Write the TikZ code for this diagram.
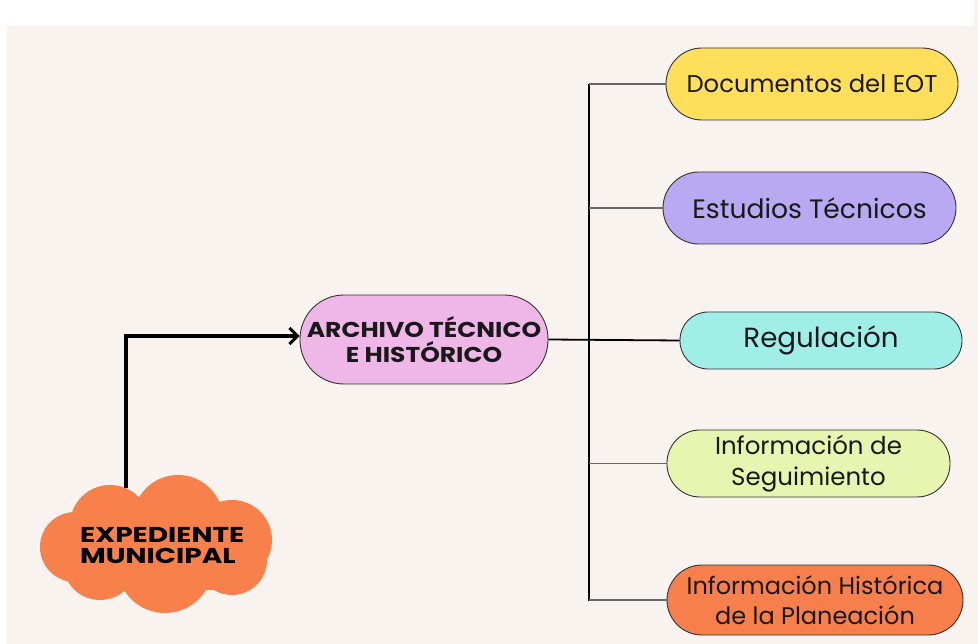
\documentclass[tikz,border=0pt]{standalone}
\usepackage{fontspec}
\setmainfont{Poppins}
\newfontfamily\expfont[FakeStretch=1.3]{Poppins}
\newfontfamily\archfont[FakeStretch=1.16]{Poppins}
\usetikzlibrary{arrows.meta}
\definecolor{bgc}{HTML}{F8F3EE}
\definecolor{cloudc}{HTML}{F7804B}
\definecolor{archc}{HTML}{EFB7E7}
\definecolor{docc}{HTML}{FEDE5B}
\definecolor{estc}{HTML}{B8A9F2}
\definecolor{regc}{HTML}{A0EEE8}
\definecolor{segc}{HTML}{E8F5B1}
\definecolor{histc}{HTML}{F77F4B}
\definecolor{edgec}{HTML}{333333}
\tikzset{
  pill/.style={draw=edgec, line width=0.9pt, align=center, inner sep=0pt, text=black!90},
  branch/.style={draw=black!60, line width=1.4pt},
  busline/.style={draw=black, line width=1.8pt},
  mainarrow/.style={draw=black, line width=3.4pt, -{Straight Barb[length=8pt,width=16pt,line width=3pt]}},
}
\begin{document}
\begin{tikzpicture}[x=1pt,y=-1pt]
\useasboundingbox (0,0) rectangle (978,644);
\fill[white] (0,0) rectangle (978,644);
\fill[bgc] (7,26) rectangle (978,644);
\fill[bgc] (974,0) rectangle (978,26);
% cloud
\begin{scope}[fill=cloudc]
\fill (75,547) circle (35);
\fill (110,525) circle (40);
\fill (178,520) circle (45);
\fill (232,540) circle (40);
\fill (232,560) circle (35);
\fill (165,565) circle (48);
\fill (100,563) circle (37);
\fill (75,510) rectangle (250,590);
\end{scope}
\node[align=left, inner sep=0pt, anchor=west, font=\expfont\bfseries\fontsize{21.5}{21}\selectfont] (exp) at (80,546) {EXPEDIENTE\\MUNICIPAL};
\coordinate (cltop) at (126,488);
% central node
\node[pill, fill=archc, minimum width=248pt, minimum height=89pt, rounded corners=44pt, font=\archfont\bfseries\fontsize{21.5}{25}\selectfont] (arch) at (424,339.5) {ARCHIVO TÉCNICO\\E HISTÓRICO};
% right nodes
\node[pill, fill=docc, minimum width=292pt, minimum height=72pt, rounded corners=36pt, font=\fontsize{24.3}{30}\selectfont] (doc) at (812,84) {Documentos del EOT};
\node[pill, fill=estc, minimum width=293pt, minimum height=72pt, rounded corners=36pt, font=\fontsize{26.6}{30}\selectfont] (est) at (809.5,208) {Estudios Técnicos};
\node[pill, fill=regc, minimum width=282pt, minimum height=57pt, rounded corners=28pt, font=\fontsize{27.7}{30}\selectfont] (reg) at (821,340.5) {Regulación};
\node[pill, fill=segc, minimum width=283pt, minimum height=67pt, rounded corners=33pt, font=\fontsize{24.5}{31}\selectfont] (seg) at (808.5,463.5) {Información de\\Seguimiento};
\node[pill, fill=histc, minimum width=296pt, minimum height=70pt, rounded corners=35pt, font=\fontsize{24}{30}\selectfont] (hist) at (815,600) {Información Histórica\\de la Planeación};
% connectors
\coordinate (bustop) at (589,84);
\coordinate (busbot) at (589,601);
\draw[busline] (bustop) -- (busbot);
\draw[branch] (doc.west) -- (doc.west -| bustop);
\draw[branch] (est.west) -- (est.west -| bustop);
\draw[branch] (seg.west) -- (seg.west -| bustop);
\draw[branch] (hist.west) -- (hist.west -| bustop);
\draw[busline] (arch.east) -- (reg.west);
\draw[mainarrow] (cltop) |- ([yshift=3.5pt]arch.west);
\end{tikzpicture}
\end{document}
